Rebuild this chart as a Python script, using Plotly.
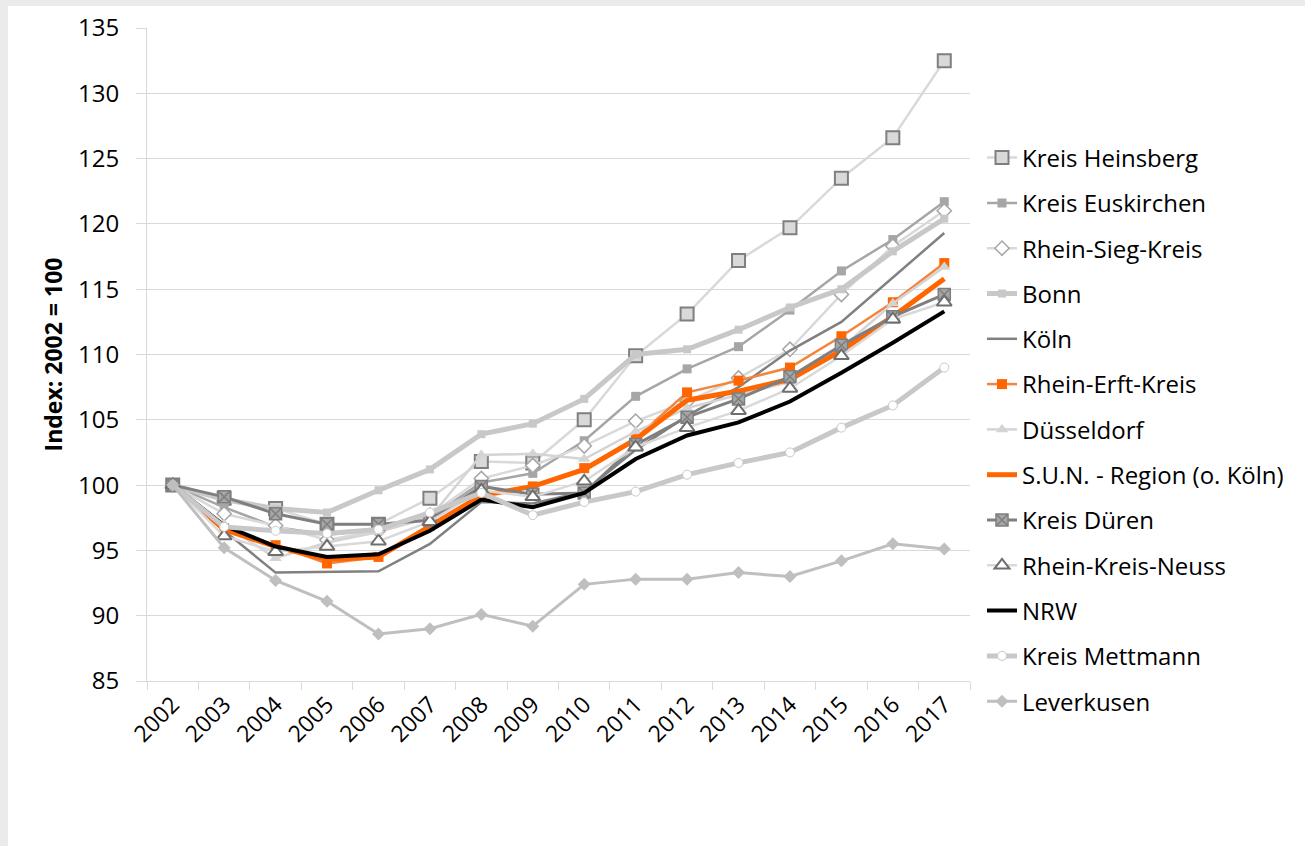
import plotly.graph_objects as go

# Jahre (Kategorien der x-Achse)
years = ["2002", "2003", "2004", "2005", "2006", "2007", "2008", "2009",
         "2010", "2011", "2012", "2013", "2014", "2015", "2016", "2017"]

# Indexwerte je Gebiet (2002 = 100)
heinsberg = [100, 99.0, 98.2, 97.0, 97.0, 99.0, 101.8, 101.7, 105.0, 109.9, 113.1, 117.2, 119.7, 123.5, 126.6, 132.5]
euskirchen = [100, 98.3, 96.8, 96.2, 96.6, 97.5, 100.2, 100.9, 103.4, 106.8, 108.9, 110.6, 113.4, 116.4, 118.8, 121.7]
rhein_sieg = [100, 97.8, 96.9, 95.8, 96.5, 97.7, 100.5, 101.5, 103.0, 104.9, 106.4, 108.2, 110.4, 114.6, 118.3, 121.0]
bonn = [100, 98.9, 98.2, 97.9, 99.6, 101.2, 103.9, 104.7, 106.6, 110.0, 110.4, 111.9, 113.6, 115.0, 117.9, 120.4]
koeln = [100, 96.5, 93.3, 93.35, 93.4, 95.5, 98.7, 98.6, 99.5, 102.7, 105.3, 107.5, 110.3, 112.5, 115.9, 119.3]
rhein_erft = [100, 96.7, 95.4, 94.0, 94.5, 96.9, 99.3, 99.9, 101.3, 103.6, 107.1, 108.0, 109.0, 111.4, 114.0, 117.0]
duesseldorf = [100, 97.0, 94.4, 95.6, 96.4, 97.5, 102.3, 102.4, 102.0, 104.1, 105.9, 106.9, 107.9, 110.5, 113.9, 116.7]
sun_region = [100, 96.6, 95.3, 94.3, 94.5, 96.9, 99.2, 99.9, 101.2, 103.5, 106.5, 107.2, 108.1, 110.3, 112.9, 115.8]
dueren = [100, 99.1, 97.8, 97.0, 97.0, 97.3, 99.9, 99.3, 99.4, 103.1, 105.2, 106.6, 108.3, 110.7, 112.9, 114.6]
neuss = [100, 96.1, 94.9, 95.3, 95.7, 97.2, 99.6, 99.1, 100.3, 102.9, 104.4, 105.7, 107.4, 109.9, 112.7, 114.0]
nrw = [100, 96.9, 95.3, 94.5, 94.7, 96.5, 98.9, 98.3, 99.4, 102.0, 103.8, 104.8, 106.4, 108.6, 110.9, 113.3]
mettmann = [100, 96.8, 96.5, 96.3, 96.6, 97.9, 99.4, 97.7, 98.7, 99.5, 100.8, 101.7, 102.5, 104.4, 106.1, 109.0]
leverkusen = [100, 95.2, 92.7, 91.1, 88.6, 89.0, 90.1, 89.2, 92.4, 92.8, 92.8, 93.3, 93.0, 94.2, 95.5, 95.1]

W, H = 1305, 846
L, R, T, B = 147, 335, 28, 165
FONT = "Open Sans"

series = [
    ("Kreis Heinsberg", heinsberg, dict(color="#d9d9d9", width=2.5),
     dict(symbol="square", size=13, color="#d9d9d9", line=dict(color="#7f7f7f", width=2))),
    ("Kreis Euskirchen", euskirchen, dict(color="#a6a6a6", width=2.5),
     dict(symbol="square", size=9, color="#a6a6a6", line=dict(width=0))),
    ("Rhein-Sieg-Kreis", rhein_sieg, dict(color="#d9d9d9", width=2.5),
     dict(symbol="diamond", size=11, color="white", line=dict(color="#a6a6a6", width=1.5))),
    ("Bonn", bonn, dict(color="#c8c8c8", width=5),
     dict(symbol="square", size=8, color="#c8c8c8", line=dict(width=0))),
    ("Köln", koeln, dict(color="#808080", width=2.5), None),
    ("Rhein-Erft-Kreis", rhein_erft, dict(color="#f4843c", width=2.5),
     dict(symbol="square", size=10, color="#ff6600", line=dict(width=0))),
    ("Düsseldorf", duesseldorf, dict(color="#d4d4d4", width=2.5),
     dict(symbol="triangle-up", size=11, color="#d4d4d4", line=dict(width=0))),
    ("S.U.N. - Region (o. Köln)", sun_region, dict(color="#ff6600", width=5), None),
    ("Kreis Düren", dueren, dict(color="#7f7f7f", width=3),
     dict(symbol="square-x", size=12, color="#a6a6a6", line=dict(color="#7f7f7f", width=1.5))),
    ("Rhein-Kreis-Neuss", neuss, dict(color="#d9d9d9", width=2.5),
     dict(symbol="triangle-up", size=13, color="white", line=dict(color="#6f6f6f", width=2))),
    ("NRW", nrw, dict(color="#000000", width=4), None),
    ("Kreis Mettmann", mettmann, dict(color="#c8c8c8", width=5),
     dict(symbol="circle", size=9, color="white", line=dict(color="#c8c8c8", width=1))),
    ("Leverkusen", leverkusen, dict(color="#bfbfbf", width=3),
     dict(symbol="diamond", size=10, color="#bfbfbf", line=dict(width=0))),
]

fig = go.Figure()
for i, (name, vals, line, marker) in enumerate(series):
    fig.add_trace(go.Scatter(
        x=years, y=vals, name=name, legendgroup=f"g{i}",
        mode="lines+markers" if marker else "lines",
        line=line, marker=marker if marker else None,
    ))

def px_x(p):
    return (p - L) / (W - L - R)

def px_y(p):
    return (H - B - p) / (H - T - B)

# grauer Rahmen oben und links
shapes = [
    dict(type="rect", xref="paper", yref="paper", layer="below",
         x0=px_x(0), x1=px_x(W), y0=px_y(6), y1=px_y(0),
         fillcolor="#ebebeb", line=dict(width=0)),
    dict(type="rect", xref="paper", yref="paper", layer="below",
         x0=px_x(0), x1=px_x(8), y0=px_y(H), y1=px_y(0),
         fillcolor="#ebebeb", line=dict(width=0)),
]

fig.update_layout(
    width=W, height=H,
    margin=dict(l=L, r=R, t=T, b=B, autoexpand=False),
    paper_bgcolor="white", plot_bgcolor="white",
    font=dict(family=FONT, size=24, color="black"),
    shapes=shapes,
    showlegend=True,
    legend=dict(
        x=px_x(982), xanchor="left", y=px_y(135.5), yanchor="top",
        traceorder="grouped", tracegroupgap=11.1,
        font=dict(family=FONT, size=24, color="black"),
        bgcolor="rgba(0,0,0,0)", borderwidth=0,
    ),
    xaxis=dict(
        type="category", tickson="boundaries", range=[-0.5, 15.5],
        showgrid=False, showline=True, linecolor="#d9d9d9", linewidth=1,
        ticks="outside", ticklen=8, tickcolor="#d9d9d9", tickwidth=1,
        tickangle=-45, tickfont=dict(family=FONT, size=23),
        zeroline=False,
    ),
    yaxis=dict(
        range=[85, 135], dtick=5, tick0=85,
        showgrid=True, gridcolor="#d9d9d9", gridwidth=1,
        showline=True, linecolor="#d9d9d9", linewidth=1,
        ticks="outside", ticklen=10, tickcolor="#d9d9d9",
        ticklabelstandoff=12,
        tickfont=dict(family=FONT, size=24),
        zeroline=False,
        title=dict(text="<b>Index: 2002 = 100</b>",
                   font=dict(family=FONT, size=23), standoff=8),
    ),
)

fig.write_html("out.html")
